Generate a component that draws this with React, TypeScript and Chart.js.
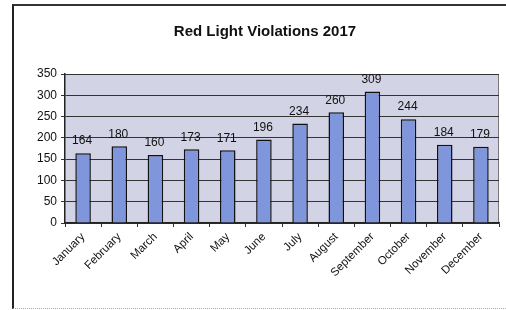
import React, { useEffect, useRef } from "react";
import { Chart, registerables } from "chart.js";

Chart.register(...registerables);

const TITLE = "Red Light Violations 2017";
const MONTHS = [
  "January", "February", "March", "April", "May", "June",
  "July", "August", "September", "October", "November", "December",
];
const VIOLATIONS = [164, 180, 160, 173, 171, 196, 234, 260, 309, 244, 184, 179];
const Y_MIN = 0;
const Y_MAX = 350;
const Y_STEP = 50;

const FONT = "'Liberation Sans', Arial, sans-serif";

const plotBg = {
  id: "plotBg",
  beforeDraw(chart: any) {
    const { ctx, chartArea } = chart;
    ctx.save();
    ctx.fillStyle = "#d3d3e6";
    ctx.fillRect(chartArea.left, chartArea.top, chartArea.right - chartArea.left, chartArea.bottom - chartArea.top);
    ctx.strokeStyle = "#777";
    ctx.lineWidth = 1;
    ctx.beginPath();
    ctx.moveTo(chartArea.left, chartArea.top + 0.5);
    ctx.lineTo(chartArea.right - 0.5, chartArea.top + 0.5);
    ctx.lineTo(chartArea.right - 0.5, chartArea.bottom);
    ctx.stroke();
    ctx.restore();
  },
};

const titleAndLabels = {
  id: "titleAndLabels",
  afterDraw(chart: any) {
    const { ctx } = chart;
    ctx.save();
    ctx.fillStyle = "#111";
    ctx.font = `bold 15px ${FONT}`;
    ctx.textAlign = "center";
    ctx.textBaseline = "middle";
    ctx.fillText(TITLE, 265, 32);
    const meta = chart.getDatasetMeta(0);
    ctx.font = `12px ${FONT}`;
    ctx.textBaseline = "bottom";
    meta.data.forEach((bar: any, i: number) => {
      ctx.fillText(String(VIOLATIONS[i]), bar.x - 1, bar.y - 6);
    });
    ctx.restore();
  },
};

export default function App() {
  const ref = useRef<HTMLCanvasElement>(null);
  useEffect(() => {
    if (!ref.current) return;
    const chart = new Chart(ref.current, {
      type: "bar",
      data: {
        labels: MONTHS,
        datasets: [
          {
            data: VIOLATIONS,
            backgroundColor: "#7f96dc",
            borderColor: "#111",
            borderWidth: 1.5,
            categoryPercentage: 1,
            barPercentage: 0.43,
          },
        ],
      },
      options: {
        animation: false,
        responsive: false,
        maintainAspectRatio: false,
        layout: { padding: { left: 0, top: 74, right: 7, bottom: 0 } },
        plugins: {
          legend: { display: false },
          title: { display: false },
          tooltip: { enabled: false },
        },
        scales: {
          x: {
            offset: true,
            grid: {
              display: true,
              drawOnChartArea: false,
              drawTicks: true,
              tickLength: 4,
              color: "#333",
              offset: true,
            },
            border: { display: true, color: "#222", width: 1.5 },
            ticks: {
              color: "#111",
              font: { family: FONT, size: 11.5 },
              minRotation: 45,
              maxRotation: 45,
              autoSkip: false,
              padding: 3,
            },
            afterFit(s: any) {
              s.height = 87;
            },
          },
          y: {
            min: Y_MIN,
            max: Y_MAX,
            ticks: {
              stepSize: Y_STEP,
              color: "#111",
              font: { family: FONT, size: 12 },
              padding: 4,
            },
            grid: {
              color: "#333",
              lineWidth: 1,
              tickLength: 4,
              drawTicks: true,
            },
            border: { display: true, color: "#222", width: 1.5 },
            afterFit(s: any) {
              s.width = 65;
            },
          },
        },
      },
      plugins: [plotBg, titleAndLabels],
    });
    return () => chart.destroy();
  }, []);

  return (
    <div style={{ position: "fixed", left: 0, top: 0, width: 506, height: 310, background: "#fff" }}>
      <canvas ref={ref} width={506} height={310} style={{ position: "absolute", left: 0, top: 0 }} />
      <div
        style={{
          position: "absolute",
          left: 12,
          top: 4,
          width: 494,
          height: 305,
          borderLeft: "2px solid #222",
          borderTop: "2px solid #333",
          borderBottom: "1px dotted #aaa",
          boxSizing: "border-box",
          pointerEvents: "none",
        }}
      />
    </div>
  );
}
